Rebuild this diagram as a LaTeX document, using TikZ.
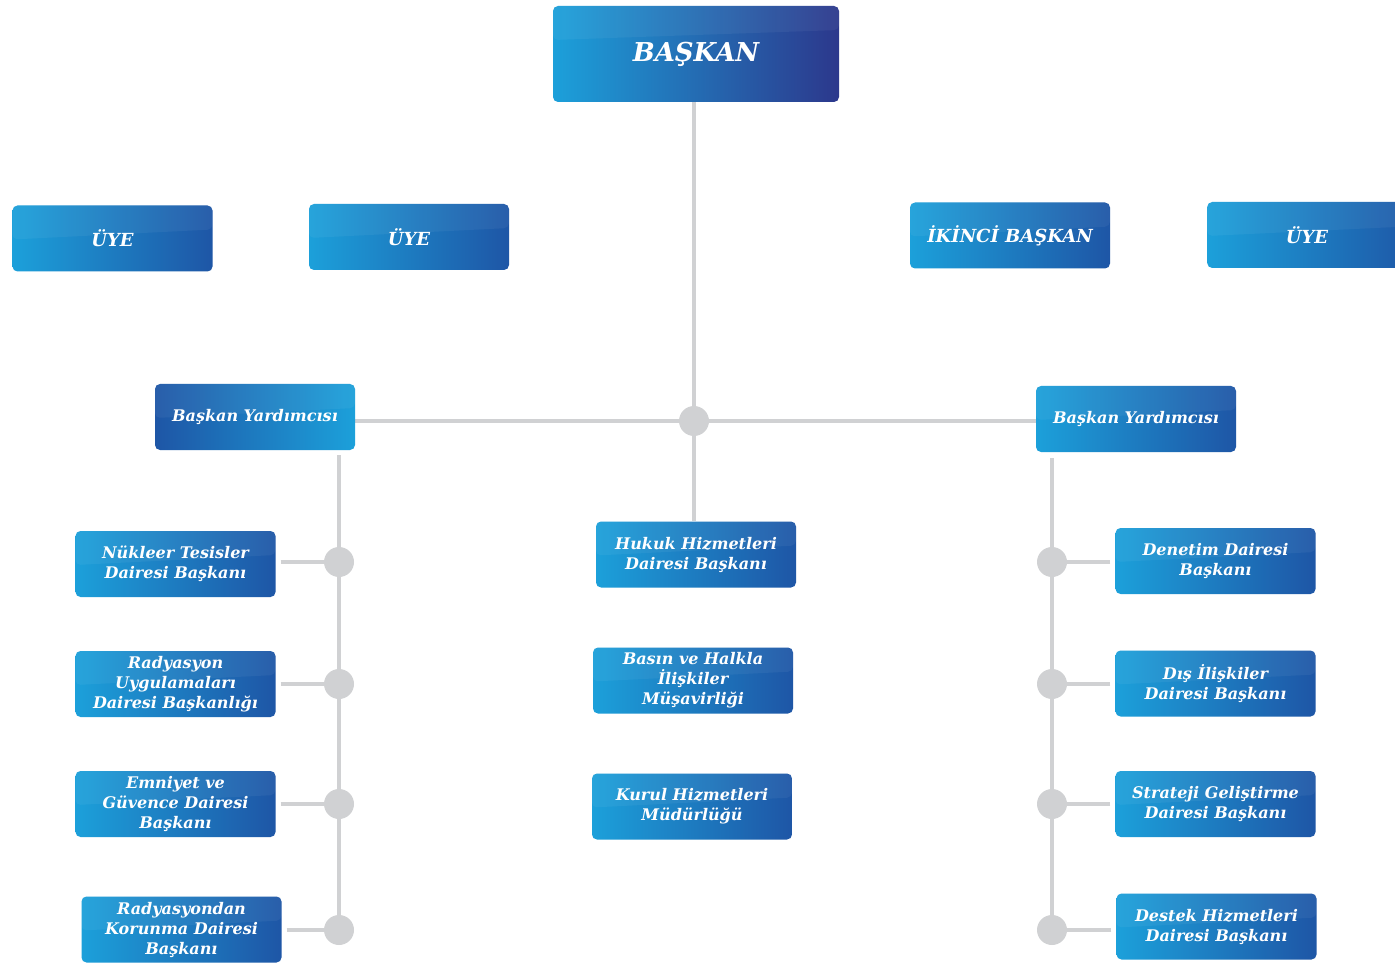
\documentclass[tikz,border=0pt]{standalone}
\usepackage{fontspec}
\setmainfont{DejaVu Serif}
\usetikzlibrary{backgrounds}
\definecolor{lb}{RGB}{28,160,218}
\definecolor{db}{RGB}{30,86,166}
\definecolor{nb}{RGB}{44,56,140}
\definecolor{ln}{RGB}{208,209,211}
\tikzset{
  box/.style={rectangle, rounded corners=5pt, minimum width=200pt, minimum height=66pt,
    left color=lb, right color=db, text=white, align=center, inner sep=0pt,
    font=\fontsize{16}{20}\selectfont\bfseries\itshape,
    path picture={\fill[white, opacity=0.05] (path picture bounding box.north west) --
      (path picture bounding box.north east) -- ([yshift=-24pt]path picture bounding box.north east)
      -- ([yshift=-34pt]path picture bounding box.north west) -- cycle;}},
  boxrev/.style={box, left color=db, right color=lb},
  topbox/.style={box, minimum width=286pt, minimum height=96pt, right color=nb,
    font=\fontsize{26}{30}\selectfont\bfseries\itshape},
  membox/.style={box, font=\fontsize{18}{22}\selectfont\bfseries\itshape},
  hub/.style={circle, fill=ln, minimum size=30pt, inner sep=0pt},
  conn/.style={draw=ln, line width=4pt},
}
\begin{document}
\begin{tikzpicture}[x=1pt,y=-1pt]
\clip (0,0) rectangle (1395,965);
% top
\node[topbox] (bas) at (696,54) {\raisebox{-4pt}{BAŞKAN}};
\node[membox] (u1) at (112.5,238.5) {ÜYE};
\node[membox] (u2) at (409,237) {ÜYE};
\node[membox] (ik) at (1010,235.5) {İKİNCİ BAŞKAN};
\node[membox, minimum width=210pt, anchor=west] (u3) at (1207,235) {\hspace*{0pt}};
\node[text=white, font=\fontsize{18}{22}\selectfont\bfseries\itshape] (u3t) at (1307,235) {ÜYE};
% vice presidents
\node[boxrev] (byl) at (255,417) {Başkan Yardımcısı};
\node[box] (byr) at (1136,419) {Başkan Yardımcısı};
% centre
\node[hub] (h0) at (694,421) {};
\node[box] (huk) at (696,554.5) {Hukuk Hizmetleri\\Dairesi Başkanı};
\node[box] (bsn) at (693,680.5) {Basın ve Halkla\\İlişkiler\\Müşavirliği};
\node[box] (krl) at (692,806.5) {Kurul Hizmetleri\\Müdürlüğü};
% left
\node[box] (l1) at (175.5,564) {Nükleer Tesisler\\Dairesi Başkanı};
\node[box] (l2) at (175.5,684) {Radyasyon\\Uygulamaları\\Dairesi Başkanlığı};
\node[box] (l3) at (175.5,804) {Emniyet ve\\Güvence Dairesi\\Başkanı};
\node[box] (l4) at (181.5,929.5) {Radyasyondan\\Korunma Dairesi\\Başkanı};
\node[hub] (hl1) at (339,562) {};
\node[hub] (hl2) at (339,684) {};
\node[hub] (hl3) at (339,804) {};
\node[hub] (hl4) at (339,930) {};
\coordinate (lt) at (339,455);
% right
\node[box] (r1) at (1215.5,561) {Denetim Dairesi\\Başkanı};
\node[box] (r2) at (1215.5,683.5) {Dış İlişkiler\\Dairesi Başkanı};
\node[box] (r3) at (1215.5,804) {Strateji Geliştirme\\Dairesi Başkanı};
\node[box] (r4) at (1216.5,926.5) {Destek Hizmetleri\\Dairesi Başkanı};
\node[hub] (hr1) at (1052,562) {};
\node[hub] (hr2) at (1052,684) {};
\node[hub] (hr3) at (1052,804) {};
\node[hub] (hr4) at (1052,930) {};
\coordinate (rt) at (1052,458);
\begin{scope}[on background layer]
  \fill[white] (0,0) rectangle (1395,965);
  \draw[conn] (h0 |- bas.south) -- (h0 |- huk.north);
  \draw[conn] (byl.east |- h0) -- (byr.west |- h0);
  \draw[conn] (lt) -- (hl4.center);
  \draw[conn] (rt) -- (hr4.center);
  \foreach \b/\h in {l1/hl1,l2/hl2,l3/hl3,l4/hl4}
    \draw[conn, shorten <=5pt] (\b.east |- \h) -- (\h.center);
  \foreach \b/\h in {r1/hr1,r2/hr2,r3/hr3,r4/hr4}
    \draw[conn, shorten <=5pt] (\b.west |- \h) -- (\h.center);
\end{scope}
\end{tikzpicture}
\end{document}
